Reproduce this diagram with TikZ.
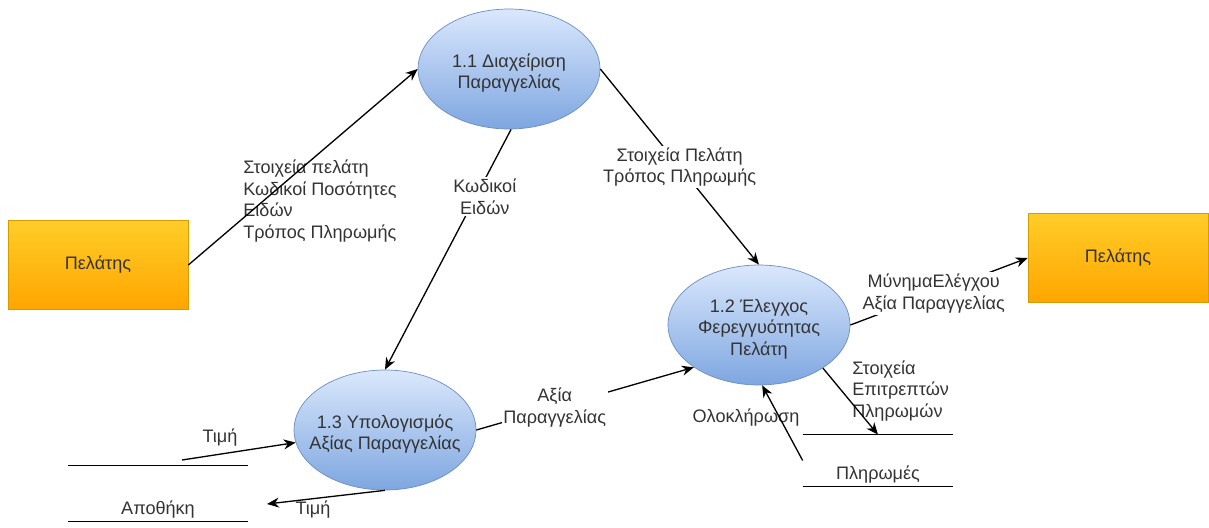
\documentclass[tikz,border=0pt]{standalone}
\usepackage{fontspec}
\setmainfont{Liberation Sans}
\usetikzlibrary{positioning,arrows.meta,shapes.geometric}
\definecolor{procclaro}{HTML}{DAE8FC}
\definecolor{procoscuro}{HTML}{7EA6E0}
\definecolor{procborde}{HTML}{6C8EBF}
\definecolor{entclaro}{HTML}{FFCD28}
\definecolor{entoscuro}{HTML}{FFA500}
\definecolor{entborde}{HTML}{D79B00}
\definecolor{texto}{HTML}{333333}
\tikzset{
  proceso/.style={ellipse, draw=procborde, top color=procclaro, bottom color=procoscuro,
    minimum width=3.64cm, minimum height=2.4cm, inner sep=0pt,
    label={[align=center, text=texto, yshift=-0.08cm]center:#1}},
  entidad/.style={rectangle, draw=entborde, top color=entclaro, bottom color=entoscuro,
    minimum width=3.6cm, minimum height=1.78cm, text=texto},
  almacen/.style={rectangle, minimum width=3.6cm, minimum height=1.1cm, inner sep=0pt,
    label={[anchor=base, yshift=0.14cm, text=texto]south:#1}},
  flecha/.style={-{Stealth[length=2.4mm, width=2mm]}, line width=0.75pt},
  etiq/.style={align=center, fill=white, inner sep=1pt, text=texto},
  nota/.style={align=left, inner sep=0pt, text=texto},
}
\begin{document}
\begin{tikzpicture}[x=0.02cm, y=-0.02cm, font=\fontsize{10.3}{12.2}\selectfont]
    \useasboundingbox (0,0) rectangle (1209,527);
    % entidades externas
    \node[entidad] (pel1) at (98,265) {Πελάτης};
    \node[entidad] (pel2) at (1118,258) {Πελάτης};
    % procesos
    \node[proceso={1.1 Διαχείριση\\Παραγγελίας}] (p11) at (509,69) {};
    \node[proceso={1.2 Έλεγχος\\Φερεγγυότητας\\Πελάτη}] (p12) at (759,325) {};
    \node[proceso={1.3 Υπολογισμός\\Αξίας Παραγγελίας}] (p13) at (385,430) {};
    % almacenes
    \node[almacen=Αποθήκη] (apo) at (158,493.5) {};
    \node[almacen=Πληρωμές, minimum width=3cm, minimum height=1.02cm] (plr) at (878,460.5) {};
    \foreach \a in {apo,plr}{
      \draw (\a.north west) -- (\a.north east) (\a.south west) -- (\a.south east);
    }
    % textos sueltos
    \node[nota, anchor=west] (et1) at (243,201) {Στοιχεία πελάτη\\Κωδικοί Ποσότητες\\Ειδών\\Τρόπος Πληρωμής};
    \node[nota, anchor=west] (et8) at (852,391) {Στοιχεία\\Επιτρεπτών\\Πληρωμών};
    \node[nota] (et4) at (220,438) {Τιμή};
    \node[nota] (et5) at (313,510) {Τιμή};
    \node[nota] (et9) at (746,418) {Ολοκλήρωση};
    \coordinate (ent13) at (182,460);
    \coordinate (sal13) at (267,504);
    % flujos
    \draw[flecha] (pel1.east) -- (p11.west);
    \draw[flecha] (p11.east) -- node[etiq]{Στοιχεία Πελάτη\\Τρόπος Πληρωμής} (p12.north);
    \draw[flecha] (p11.272) -- node[etiq, pos=.28, xshift=0.18cm]{Κωδικοί\\Ειδών} (p13.north);
    \draw[flecha] (ent13) -- (p13.188);
    \draw[flecha] (p13.south) -- (sal13);
    \draw[flecha] (p13.east) -- node[etiq, pos=.36]{Αξία\\Παραγγελίας} (p12.213);
    \draw[flecha] (p12.east) -- node[etiq, pos=.47]{ΜύνημαΕλέγχου\\Αξία Παραγγελίας} (pel2.west);
    \draw[flecha] (p12.326) -- (plr.north);
    \draw[flecha] (plr.west) -- (p12.273);
\end{tikzpicture}
\end{document}
